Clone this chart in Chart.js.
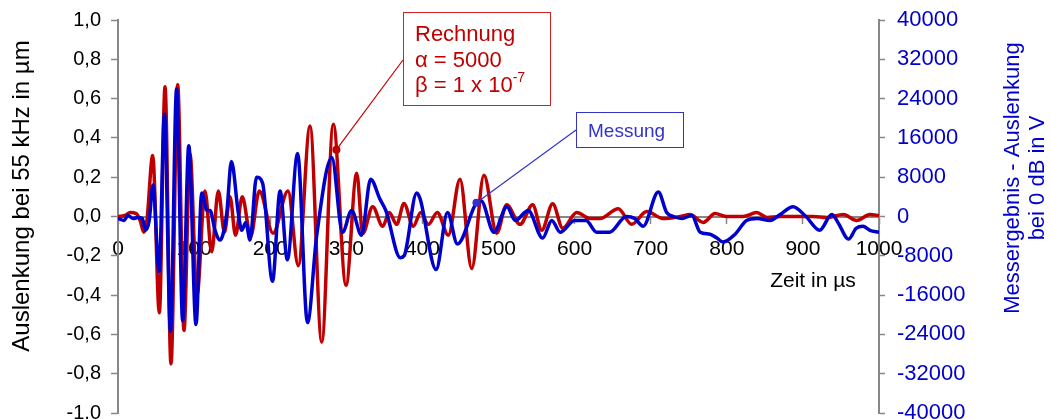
<!DOCTYPE html>
<html>
<head>
<meta charset="utf-8">
<script src="https://cdn.jsdelivr.net/npm/chart.js@4.4.0/dist/chart.umd.min.js"></script>
<style>
  html, body { margin: 0; padding: 0; background: #fff; }
  canvas { display: block; }
</style>
</head>
<body>
<canvas id="myChart" width="1051" height="419"></canvas>
<script>
// Rechnung (left axis, µm)
var calcTime = [0, 9, 16, 24, 29, 34, 38, 45.6, 54.3, 61.8, 69.6, 78.4, 86.7, 94.6, 103.8, 114.3, 123.1, 131.8, 139.9, 147.2,
  154.4, 163.3, 174.4, 185.7, 203.7, 223.4, 236.9, 252.3, 267.7, 282.9, 299.6, 313.7, 321.6, 334.7, 347.8, 356.5, 366.2, 375.8,
  388, 397.8, 407.8, 419.6, 434, 449.4, 464.8, 480.9, 497.6, 510.8, 528.3, 544.9, 556.8, 571.2, 584.4, 602.8, 620.2, 633.4,
  657.4, 675, 694.7, 716.2, 738.5, 751.6, 769.1, 784.5, 800.3, 821.3, 839.3, 852.8, 869.9, 892.2, 913.3, 931.7, 953.1, 970.7,
  988.2, 1000];
var calcValue = [0, 0.005, 0.02, 0.015, -0.02, -0.08, -0.02, 0.31, -0.49, 0.66, -0.75, 0.67, -0.58, 0.32, -0.4, 0.13, -0.18, 0.13, -0.08, 0.10,
  -0.095, 0.10, -0.10, 0.13, -0.085, 0.13, -0.25, 0.46, -0.64, 0.47, -0.35, 0.22, -0.087, 0.05, -0.05, 0.02, -0.04, 0.066,
  -0.05, 0.02, -0.04, 0.02, -0.095, 0.19, -0.265, 0.21, -0.085, 0.06, -0.04, 0.06, -0.07, 0.065, -0.06, 0.02, -0.01, -0.01,
  0.04, -0.04, 0.025, -0.01, 0, 0.01, -0.03, 0.015, 0, 0, 0.02, -0.005, 0, 0, 0, -0.005, 0.01, -0.02,
  0.01, 0.005];

// Messung (right axis, V)
var measTime = [0, 8, 13, 20, 26, 32, 36, 41, 46, 54, 61, 69, 77, 85, 93, 102.5, 110, 117, 121, 127.5,
  134, 138, 143, 149, 158, 162.5, 168, 173.5, 182, 190, 203, 213, 222.5, 236, 249, 261, 281, 295, 307, 320,
  332, 344, 352, 371, 376, 392.5, 397, 418, 433, 446, 471, 477, 494, 511, 522, 539, 558, 570, 581, 600,
  615, 629, 646, 668, 679, 690, 710, 721, 730, 741, 754, 765, 778, 787, 795, 811, 826, 840, 857, 870,
  887, 904, 922, 938, 946, 960, 970, 979, 988, 1000];
var measValue = [-400, -800, 200, -400, -200, -400, -2800, -800, 6400, -11200, 20800, -23400, 26000, -21200, 14400, -22000, 4800, 1200, 1200, -2800,
  -4800, -3600, 800, 11200, 800, -2800, -1200, -4800, 8000, 6800, -13200, 5200, -8800, 12800, -21600, -4000, 12000, -3200, 1200, -3800,
  7600, 3600, 1200, -8400, -8000, 4800, 3600, -10800, 800, -5600, 2800, 3200, -3200, 2000, -800, 1200, -4400, -800, -3200, -800,
  -800, -3200, -3200, 0, -400, -2000, 5000, 800, 0, -400, 200, -3200, -3600, -4400, -5200, -3600, -800, -400, -800, 400,
  2000, 0, -2800, 400, -1200, -4600, -2400, -2000, -2800, -3200];

// axis ranges
var xRange = [0, 1000, 100];
var leftRange = [-1, 1, 0.2];
var rightRange = [-40000, 40000, 8000];

// callout anchors (time, value)
var calcMark = [287, 0.34];
var measMark = [471, 2800];

var FONT = '"Liberation Sans", Arial, sans-serif';
var RED = '#c00000';
var BLUE = '#0000cc';
var AXIS = '#878787';

function pairs(t, v) {
  return t.map(function (x, i) { return { x: x, y: v[i] }; });
}

var annotations = {
  id: 'annotations',
  afterDraw: function (chart) {
    var c = chart.ctx;
    var sx = chart.scales.x, sy = chart.scales.y, sy1 = chart.scales.y1;
    c.save();

    // axis titles
    c.fillStyle = '#000';
    c.font = '24px ' + FONT;
    c.textAlign = 'center';
    c.textBaseline = 'middle';
    c.save();
    c.translate(22, 196);
    c.rotate(-Math.PI / 2);
    c.fillText('Auslenkung bei 55 kHz in µm', 0, 0);
    c.restore();

    c.fillStyle = BLUE;
    c.font = '22px ' + FONT;
    c.save();
    c.translate(1013, 178);
    c.rotate(-Math.PI / 2);
    c.fillText('Messergebnis - Auslenkung', 0, 0);
    c.fillText('bei 0 dB in V', 0, 25);
    c.restore();

    c.fillStyle = '#000';
    c.font = '21px ' + FONT;
    c.textAlign = 'center';
    c.textBaseline = 'alphabetic';
    c.fillText('Zeit in µs', 813, 287);

    // Rechnung callout
    var rx = sx.getPixelForValue(calcMark[0]), ry = sy.getPixelForValue(calcMark[1]);
    c.strokeStyle = RED;
    c.lineWidth = 1.2;
    c.beginPath();
    c.moveTo(403, 60);
    c.lineTo(rx, ry);
    c.stroke();
    c.fillStyle = RED;
    c.beginPath();
    c.arc(rx, ry, 4, 0, Math.PI * 2);
    c.fill();

    c.fillStyle = '#fff';
    c.fillRect(403, 12, 148, 94);
    c.strokeStyle = '#d02020';
    c.lineWidth = 1;
    c.strokeRect(403.5, 12.5, 147, 93);
    c.fillStyle = RED;
    c.textAlign = 'left';
    c.font = '22px ' + FONT;
    c.fillText('Rechnung', 415, 41);
    c.fillText('α = 5000', 415, 67);
    var base = 'β = 1 x 10';
    c.fillText(base, 415, 92);
    var w = c.measureText(base).width;
    c.font = '14px ' + FONT;
    c.fillText('-7', 415 + w, 82);

    // Messung callout
    var mx = sx.getPixelForValue(measMark[0]), my = sy1.getPixelForValue(measMark[1]);
    c.strokeStyle = '#3333cc';
    c.lineWidth = 1.2;
    c.beginPath();
    c.moveTo(576, 130);
    c.lineTo(mx, my);
    c.stroke();
    c.fillStyle = '#3333cc';
    c.beginPath();
    c.arc(mx, my, 4, 0, Math.PI * 2);
    c.fill();

    c.fillStyle = '#fff';
    c.fillRect(576, 112, 107, 35);
    c.strokeStyle = '#3333cc';
    c.lineWidth = 1;
    c.strokeRect(576.5, 112.5, 107, 35);
    c.fillStyle = '#3333cc';
    c.font = '19px ' + FONT;
    c.fillText('Messung', 588, 137);

    c.restore();
  }
};

window.onload = function () {
  var ctx = document.getElementById('myChart').getContext('2d');

  var chart = new Chart(ctx, {
    type: 'line',
    data: {
      datasets: [{
        label: 'Messung',
        data: pairs(measTime, measValue),
        yAxisID: 'y1',
        borderColor: BLUE,
        borderWidth: 3.5,
        pointRadius: 0,
        cubicInterpolationMode: 'monotone'
      }, {
        label: 'Rechnung',
        data: pairs(calcTime, calcValue),
        yAxisID: 'y',
        borderColor: RED,
        borderWidth: 3.5,
        pointRadius: 0,
        cubicInterpolationMode: 'monotone'
      }]
    },
    options: {
      responsive: false,
      animation: false,
      devicePixelRatio: 1,
      layout: { padding: { top: 20, bottom: 6, left: 0, right: 0 } },
      plugins: { legend: { display: false }, tooltip: { enabled: false } },
      scales: {
        x: {
          type: 'linear',
          position: { y: 0 },
          min: xRange[0], max: xRange[1],
          ticks: {
            stepSize: xRange[2], color: '#000', font: { family: FONT, size: 21 }, padding: 14, maxRotation: 0,
            callback: function (v) { return String(Math.round(v)); }
          },
          grid: { drawOnChartArea: false, tickLength: 6, color: AXIS, tickWidth: 1.5 },
          border: { color: AXIS, width: 2 },
          afterFit: function (s) { s.paddingLeft = 0; s.paddingRight = 0; }
        },
        y: {
          position: 'left',
          min: leftRange[0], max: leftRange[1],
          ticks: {
            stepSize: leftRange[2], color: '#000', font: { family: FONT, size: 20 }, padding: 10,
            callback: function (v) { return (Math.abs(v) < 1e-9 ? 0 : v).toFixed(1).replace('.', ','); }
          },
          grid: { drawOnChartArea: false, tickLength: 7, color: AXIS, tickWidth: 1.5 },
          border: { color: AXIS, width: 2 },
          afterFit: function (s) { s.width = 118; s.paddingTop = 0; s.paddingBottom = 0; }
        },
        y1: {
          position: 'right',
          min: rightRange[0], max: rightRange[1],
          ticks: {
            stepSize: rightRange[2], color: BLUE, font: { family: FONT, size: 22 }, padding: 12,
            callback: function (v) { return String(Math.round(v)); }
          },
          grid: { drawOnChartArea: false, tickLength: 6, color: AXIS, tickWidth: 1.5 },
          border: { color: AXIS, width: 2 },
          afterFit: function (s) { s.width = 172; s.paddingTop = 0; s.paddingBottom = 0; }
        }
      }
    },
    plugins: [annotations]
  });
};
</script>
</body>
</html>
